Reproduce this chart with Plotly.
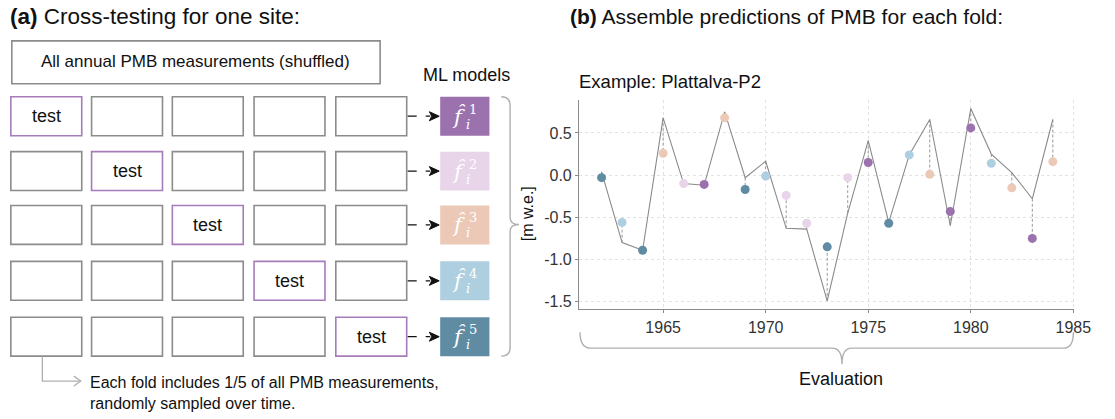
import plotly.graph_objects as go

W, H = 1115, 419
FONT = 'Liberation Sans, Arial, sans-serif'

# data
years = list(range(1962, 1985))
observed = [0.04, -0.80, -0.89, 0.68, -0.10, -0.12, 0.75, -0.03, 0.165, -0.63, -0.64, -1.49,
            -0.45, 0.41, -0.56, 0.24, 0.66, -0.60, 0.79, 0.25, 0.03, -0.28, 0.66]
predicted = [-0.03, -0.56, -0.89, 0.26, -0.10, -0.11, 0.68, -0.17, -0.01, -0.24, -0.57, -0.85,
             -0.03, 0.15, -0.57, 0.24, 0.01, -0.43, 0.56, 0.14, -0.15, -0.75, 0.16]
fold = [5, 4, 5, 3, 2, 1, 3, 5, 4, 2, 2, 5, 2, 1, 5, 4, 3, 1, 1, 4, 3, 1, 3]

fold_colors = {1: '#9b72ae', 2: '#e8d5e9', 3: '#ecc9b6', 4: '#aecfe0', 5: '#5f8ca3'}

x_ticks = [1965, 1970, 1975, 1980, 1985]
y_ticks = [0.5, 0.0, -0.5, -1.0, -1.5]
y_ticktext = ['0.5', '0.0', '-0.5', '-1.0', '-1.5']

# panel (a) layout in pixels
col_x = [11, 93, 175, 258, 341]
row_y = [97, 152, 206, 262, 318]
box_w, box_h = 72, 39


def px(x):
    return x / W


def py(y):
    return 1 - y / H


def rect(x0, y0, x1, y1, color, width=1.6, fill=None):
    return dict(type='rect', xref='paper', yref='paper', x0=px(x0), x1=px(x1), y0=py(y1), y1=py(y0),
                line=dict(color=color, width=width), fillcolor=fill, layer='above')


def path(d_pts, color, width=1.3, dash='solid', fill=None, closed=False):
    d = 'M ' + ' L '.join('%.5f,%.5f' % (px(a), py(b)) for a, b in d_pts)
    if closed:
        d += ' Z'
    return dict(type='path', xref='paper', yref='paper', path=d,
                line=dict(color=color, width=width, dash=dash), fillcolor=fill)


def curve(cmds, color, width=1.3):
    # cmds: list of (op, pts) using pixel coords
    parts = []
    for op, pts in cmds:
        parts.append(op + ' ' + ' '.join('%.5f,%.5f' % (px(a), py(b)) for a, b in pts))
    return dict(type='path', xref='paper', yref='paper', path=' '.join(parts),
                line=dict(color=color, width=width))


def text(x, y, s, size=15, xanchor='center', color='#111', **kw):
    return dict(x=px(x), y=py(y), xref='paper', yref='paper', text=s, showarrow=False,
                xanchor=xanchor, yanchor='middle', font=dict(family=FONT, size=size, color=color), **kw)


fig = go.Figure()

# dashed connectors between observed and predicted
cx, cy = [], []
for yr, o, p in zip(years, observed, predicted):
    cx += [yr, yr, None]
    cy += [o, p, None]
fig.add_trace(go.Scatter(x=cx, y=cy, mode='lines', line=dict(color='#9a9a9a', width=1, dash='3px,2px'),
                         hoverinfo='skip', showlegend=False))
fig.add_trace(go.Scatter(x=years, y=observed, mode='lines', line=dict(color='#8a8a8a', width=1.1),
                         showlegend=False))
fig.add_trace(go.Scatter(x=years, y=predicted, mode='markers',
                         marker=dict(size=9, color=[fold_colors[f] for f in fold]),
                         showlegend=False))

fig.update_xaxes(domain=[px(588), px(1091)], range=[1960.9, 1985.05], tickvals=x_ticks,
                 showgrid=True, gridcolor='#e2e2e2', griddash='dot', gridwidth=1,
                 showline=True, linecolor='#8a8a8a', linewidth=1.2, ticks='outside', ticklen=3,
                 tickcolor='#8a8a8a', tickfont=dict(family=FONT, size=16, color='#333'), zeroline=False)
fig.update_yaxes(domain=[py(310), py(100)], range=[-1.59, 0.894], tickvals=y_ticks, ticktext=y_ticktext,
                 showgrid=True, gridcolor='#e2e2e2', griddash='dot', gridwidth=1,
                 showline=True, linecolor='#8a8a8a', linewidth=1.2, ticks='outside', ticklen=3,
                 tickcolor='#8a8a8a', tickfont=dict(family=FONT, size=16, color='#333'), zeroline=False)

shapes = []
annotations = []

# panel (a)
shapes.append(rect(12, 41, 386, 84, '#8c8c8c'))
annotations.append(text(199, 62, 'All annual PMB measurements (shuffled)', size=17))
annotations.append(text(474, 75, 'ML models', size=18))

for r, y0 in enumerate(row_y):
    for c, x0 in enumerate(col_x):
        is_test = (r == c)
        shapes.append(rect(x0, y0, x0 + box_w, y0 + box_h, '#a57cb9' if is_test else '#8c8c8c'))
        if is_test:
            annotations.append(text(x0 + box_w / 2, y0 + box_h / 2, 'test', size=18))
    ym = y0 + box_h / 2
    # dashed arrow to model box
    shapes.append(path([(414, ym), (437, ym)], '#111', width=1.3, dash='dash'))
    shapes.append(path([(436, ym - 4.5), (446, ym), (436, ym + 4.5), (438.5, ym)], '#111', width=1,
                       fill='#111', closed=True))
    # model box
    shapes.append(rect(447, y0, 497, y0 + box_h, fold_colors[r + 1], width=0, fill=fold_colors[r + 1]))
    annotations.append(text(466, ym, '<i>f̂</i>', size=21, color='white',
                            font_family='DejaVu Serif'))
    annotations.append(dict(x=px(475), y=py(ym + 8), xref='paper', yref='paper', text='<i>i</i>',
                            showarrow=False, xanchor='center', yanchor='middle',
                            font=dict(family='DejaVu Serif', size=13, color='white')))
    annotations.append(dict(x=px(480), y=py(ym - 7), xref='paper', yref='paper', text=str(r + 1),
                            showarrow=False, xanchor='center', yanchor='middle',
                            font=dict(family='DejaVu Serif', size=13, color='white')))

# right brace grouping the models
shapes.append(curve([('M', [(509, 97)]), ('Q', [(518, 97), (518, 106)]), ('L', [(518, 218)]),
                     ('Q', [(518, 225), (527, 225)]), ('Q', [(518, 225), (518, 232)]),
                     ('L', [(518, 348)]), ('Q', [(518, 357), (509, 357)])], '#b0b0b0', width=1.4))

# L-shaped pointer to the note
shapes.append(path([(43, 357), (43, 382), (82, 382)], '#b0b0b0', width=1.3))
shapes.append(path([(75, 377), (82, 382), (75, 387)], '#b0b0b0', width=1.3))
annotations.append(text(89, 383, 'Each fold includes 1/5 of all PMB measurements,', size=16, xanchor='left'))
annotations.append(text(89, 404, 'randomly sampled over time.', size=16, xanchor='left'))

# bottom brace under the time axis
shapes.append(curve([('M', [(589, 333)]), ('Q', [(589, 349), (600, 349)]), ('L', [(845, 349)]),
                     ('Q', [(855, 349), (855, 365)]), ('Q', [(855, 349), (865, 349)]),
                     ('L', [(1080, 349)]), ('Q', [(1090, 349), (1090, 333)])], '#b0b0b0', width=1.4))
annotations.append(text(854, 380, 'Evaluation', size=18))

# titles
annotations.append(text(8, 17, '<b>(a)</b> Cross-testing for one site:', size=22.5, xanchor='left'))
annotations.append(text(577, 17, '<b>(b)</b> Assemble predictions of PMB for each fold:', size=21, xanchor='left'))
annotations.append(text(586, 82, 'Example: Plattalva-P2', size=18.5, xanchor='left'))
annotations.append(text(536, 214, '[m w.e.]', size=16, textangle=-90))

fig.update_layout(width=W, height=H, margin=dict(l=0, r=0, t=0, b=0),
                  paper_bgcolor='white', plot_bgcolor='white',
                  shapes=shapes, annotations=annotations, showlegend=False)

fig.write_html("out.html", config={'displayModeBar': False},
               post_script="document.body.style.margin='0';document.body.style.overflow='hidden';")
